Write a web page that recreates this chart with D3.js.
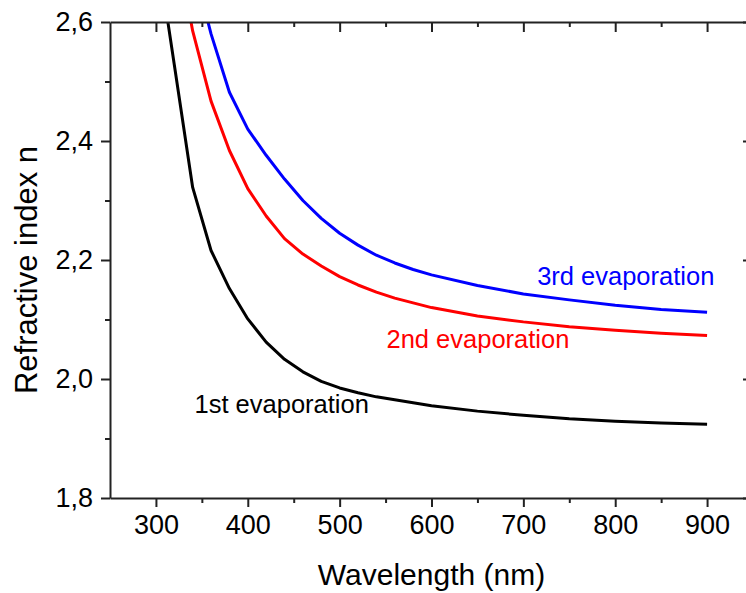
<!DOCTYPE html>
<html>
<head>
<meta charset="utf-8">
<script src="https://cdn.jsdelivr.net/npm/d3@7"></script>
<style>
	body { margin: 0; background: #fff; }
	svg { display: block; font-family: "Liberation Sans", Arial, sans-serif; }
	.axis path, .axis line { stroke: #222; stroke-width: 2; }
	.axis text { fill: #000; font-size: 27px; }
</style>
</head>
<body>
<svg id="chart"></svg>
<script>
// values
const wavelength1st = [300, 320, 340, 360, 380, 400, 420, 440, 460, 480, 500, 520, 540, 560, 580, 600, 650, 700, 750, 800, 850, 900];
const index1st = [2.734, 2.528, 2.322, 2.216, 2.152, 2.101, 2.062, 2.033, 2.012, 1.996, 1.985, 1.977, 1.970, 1.965, 1.960, 1.955, 1.946, 1.939, 1.933, 1.929, 1.926, 1.924];

const wavelength2nd = [320, 340, 360, 380, 400, 420, 440, 460, 480, 500, 520, 540, 560, 580, 600, 650, 700, 750, 800, 850, 900];
const index2nd = [2.75, 2.585, 2.467, 2.384, 2.320, 2.274, 2.236, 2.210, 2.190, 2.172, 2.158, 2.146, 2.136, 2.128, 2.120, 2.106, 2.096, 2.088, 2.082, 2.077, 2.073];

const wavelength3rd = [340, 360, 380, 400, 420, 440, 460, 480, 500, 520, 540, 560, 580, 600, 650, 700, 750, 800, 850, 900];
const index3rd = [2.70, 2.58, 2.482, 2.42, 2.376, 2.336, 2.300, 2.270, 2.245, 2.225, 2.208, 2.195, 2.184, 2.175, 2.157, 2.143, 2.133, 2.124, 2.117, 2.112];

const seriesNames = ['1st evaporation', '2nd evaporation', '3rd evaporation'];
const seriesColors = ['#000000', '#ff0000', '#0000ff'];

const xTicks = [300, 400, 500, 600, 700, 800, 900];
const xMinorTicks = [350, 450, 550, 650, 750, 850];
const yTicks = [1.8, 2.0, 2.2, 2.4, 2.6];
const yTickLabels = ['1,8', '2,0', '2,2', '2,4', '2,6'];
const yMinorTicks = [1.9, 2.1, 2.3, 2.5];

// where each label starts (left, baseline), in data units
const labelAnchors = [[342, 1.943], [551, 2.052], [715, 2.158]];

const width = 746, height = 593;
const margin = { top: 22, right: -7, bottom: 95, left: 110 };
const innerW = width - margin.left - margin.right;
const innerH = height - margin.top - margin.bottom;

const svg = d3.select('#chart')
	.attr('width', width)
	.attr('height', height);

const chart = svg.append('g')
	.attr('transform', `translate(${margin.left},${margin.top})`);

const xScale = d3.scaleLinear().domain([250, 950]).range([0, innerW]);
const yScale = d3.scaleLinear().domain([1.8, 2.6]).range([innerH, 0]);

// clip curves to the plot box
svg.append('defs').append('clipPath').attr('id', 'plot-clip')
	.append('rect').attr('width', innerW).attr('height', innerH);

const series = [
	{ name: seriesNames[0], color: seriesColors[0], values: wavelength1st.map((w, i) => [w, index1st[i]]) },
	{ name: seriesNames[1], color: seriesColors[1], values: wavelength2nd.map((w, i) => [w, index2nd[i]]) },
	{ name: seriesNames[2], color: seriesColors[2], values: wavelength3rd.map((w, i) => [w, index3rd[i]]) }
];

const line = d3.line()
	.x(d => xScale(d[0]))
	.y(d => yScale(d[1]));

chart.append('g')
	.attr('clip-path', 'url(#plot-clip)')
	.selectAll('.curve')
	.data(series)
	.join('path')
		.attr('class', 'curve')
		.attr('fill', 'none')
		.attr('stroke', d => d.color)
		.attr('stroke-width', 3)
		.attr('stroke-linejoin', 'round')
		.attr('d', d => line(d.values));

// axes: major + minor ticks, outward on bottom/left, inward on top/right
function addAxis(axisFn, scale, ticks, minor, transform, labels) {
	const g = chart.append('g').attr('class', 'axis').attr('transform', transform);
	const inward = axisFn === d3.axisTop || axisFn === d3.axisRight;
	const major = axisFn(scale).tickValues(ticks).tickSizeOuter(0)
		.tickSizeInner(inward ? -10 : 9).tickPadding(8);
	if (labels) major.tickFormat((d, i) => labels[i]);
	else major.tickFormat('');
	g.call(major);
	g.append('g').call(axisFn(scale).tickValues(minor).tickSizeOuter(0)
		.tickSizeInner(inward ? -5 : 5).tickFormat(''))
		.select('.domain').remove();
	return g;
}

addAxis(d3.axisBottom, xScale, xTicks, xMinorTicks, `translate(0,${innerH})`, xTicks.map(String));
addAxis(d3.axisTop, xScale, xTicks, xMinorTicks, 'translate(0,0)', null);
addAxis(d3.axisLeft, yScale, yTicks, yMinorTicks, 'translate(0,0)', yTickLabels);
addAxis(d3.axisRight, yScale, yTicks, yMinorTicks, `translate(${innerW},0)`, null);

// series labels
chart.selectAll('.series-label')
	.data(series)
	.join('text')
		.attr('class', 'series-label')
		.attr('x', (d, i) => xScale(labelAnchors[i][0]))
		.attr('y', (d, i) => yScale(labelAnchors[i][1]))
		.attr('fill', d => d.color)
		.style('font-size', '25.5px')
		.text(d => d.name);

// axis titles
svg.append('text')
	.attr('x', margin.left + innerW / 2)
	.attr('y', 585)
	.attr('text-anchor', 'middle')
	.style('font-size', '30px')
	.text('Wavelength (nm)');

svg.append('text')
	.attr('transform', 'rotate(-90)')
	.attr('x', -270)
	.attr('y', 37)
	.attr('text-anchor', 'middle')
	.style('font-size', '31px')
	.text('Refractive index n');
</script>
</body>
</html>
